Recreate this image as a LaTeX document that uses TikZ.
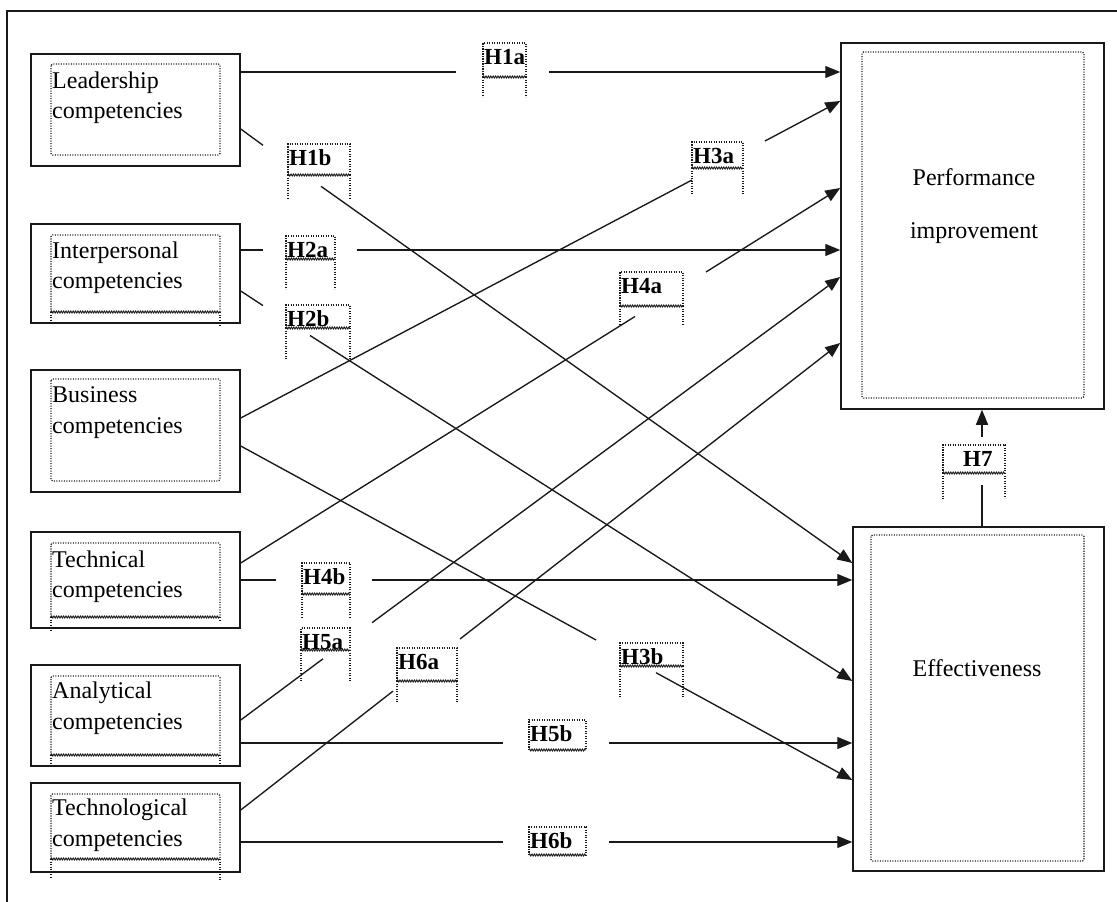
\documentclass[tikz,border=0pt]{standalone}
\usepackage{fontspec}
\setmainfont{Liberation Serif}
\usetikzlibrary{arrows.meta,decorations.pathmorphing}
\tikzset{
  obox/.style={draw=black!90,line width=1.5pt,inner sep=0pt},
  dotl/.style={draw=black!90,line width=1.1pt,dash pattern=on 1.1pt off 1.4pt},
  dotbox/.style={dotl,rounded corners=1.5pt},
  wavel/.style={draw=black!90,line width=0.9pt,decorate,decoration={zigzag,amplitude=1pt,segment length=2.4pt}},
  conn/.style={draw=black!90,line width=1.35pt},
  arr/.style={conn,-{Triangle[length=15pt,width=12pt]}},
  txt/.style={font=\fontsize{24}{30}\selectfont,inner sep=0pt,anchor=base west},
  ctxt/.style={font=\fontsize{24}{30}\selectfont,inner sep=0pt,anchor=base},
  htxt/.style={font=\bfseries\fontsize{23}{28}\selectfont,inner sep=0pt,anchor=base west},
  frame/.style={draw=black!90,line width=1.5pt}
}
% label with open-bottom extension: name, text, xl, xr, ytop, ywave, yext
\newcommand\hyplab[7]{%
  \node[htxt] (#1) at (#3+1,#5+21) {#2};
  \draw[dotl] (#3,#6) -- (#3,#5) -- (#4,#5) -- (#4,#6);
  \draw[wavel] (#3,#6) -- (#4,#6);
  \draw[dotl] (#3,#6) -- (#3,#7);
  \draw[dotl] (#4,#6) -- (#4,#7);
}
% closed label: name, text, xl, xr, ytop, ywave
\newcommand\hyplabc[6]{%
  \node[htxt] (#1) at (#3+1,#5+21) {#2};
  \draw[dotl] (#3,#6) -- (#3,#5) -- (#4,#5) -- (#4,#6);
  \draw[wavel] (#3,#6) -- (#4,#6);
}
\begin{document}
\begin{tikzpicture}[x=1pt,y=-1pt]
\useasboundingbox (0,0) rectangle (1117,902);
\fill[white] (0,0) rectangle (1117,902);
\draw[frame] (7,902) -- (7,11) -- (1117,11);

% ---------- left boxes ----------
\node[obox,minimum width=209pt,minimum height=112pt] (lead) at (135.5,110) {};
\node[obox,minimum width=209pt,minimum height=99pt] (inter) at (135.5,273.5) {};
\node[obox,minimum width=209pt,minimum height=122pt] (bus) at (135.5,431) {};
\node[obox,minimum width=209pt,minimum height=96pt] (tech) at (135.5,580) {};
\node[obox,minimum width=209pt,minimum height=101pt] (anal) at (135.5,715.5) {};
\node[obox,minimum width=209pt,minimum height=89pt] (techno) at (135.5,827.5) {};

% inner dotted frames
\draw[dotbox] (51,64) rectangle (220,155);
\draw[dotbox] (51,312) -- (51,235) -- (220,235) -- (220,312);
\draw[wavel] (51,312) -- (220,312);
\draw[dotl] (51,312) -- (51,322); \draw[dotl] (220,312) -- (220,325);
\draw[dotbox] (51,379) rectangle (220,481);
\draw[dotbox] (51,617) -- (51,543) -- (220,543) -- (220,617);
\draw[wavel] (51,617) -- (220,617);
\draw[dotl] (51,617) -- (51,630); \draw[dotl] (220,617) -- (220,621);
\draw[dotbox] (51,755) -- (51,676) -- (220,676) -- (220,755);
\draw[wavel] (51,755) -- (220,755);
\draw[dotl] (51,755) -- (51,763); \draw[dotl] (220,755) -- (220,763);
\draw[dotbox] (51,859) -- (51,794) -- (220,794) -- (220,859);
\draw[wavel] (51,859) -- (220,859);
\draw[dotl] (51,859) -- (51,877); \draw[dotl] (220,859) -- (220,880);

% texts
\node[txt] (lead-a) at (52,88) {Leadership};
\node[txt] (lead-b) at (52,118) {competencies};
\node[txt] (inter-a) at (52,258) {Interpersonal};
\node[txt] (inter-b) at (52,288) {competencies};
\node[txt] (bus-a) at (52,402) {Business};
\node[txt] (bus-b) at (52,433) {competencies};
\node[txt] (tech-a) at (52,567) {Technical};
\node[txt] (tech-b) at (52,597) {competencies};
\node[txt] (anal-a) at (52,698) {Analytical};
\node[txt] (anal-b) at (52,729) {competencies};
\node[txt] (techno-a) at (52,815) {Technological};
\node[txt] (techno-b) at (52,846) {competencies};

% ---------- right boxes ----------
\node[obox,minimum width=263pt,minimum height=366pt] (perf) at (972.5,226) {};
\draw[dotbox] (862,52) rectangle (1084,398);
\node[ctxt] (perf-a) at (974,185) {Performance};
\node[ctxt] (perf-b) at (974,238) {improvement};

\node[obox,minimum width=251pt,minimum height=344pt] (eff) at (978.5,699) {};
\draw[dotbox] (871,535) rectangle (1084,861);
\node[ctxt] (eff-a) at (977,676) {Effectiveness};

% ---------- labels ----------
\hyplab{h1a}{H1a}{483}{526}{43}{77}{97}
\hyplab{h1b}{H1b}{288}{350}{144}{175}{198}
\hyplab{h2a}{H2a}{286}{335}{236}{259}{289}
\hyplab{h2b}{H2b}{286}{350}{305}{328}{359}
\hyplab{h3a}{H3a}{692}{743}{142}{168}{195}
\hyplab{h4a}{H4a}{620}{683}{272}{306}{324}
\hyplab{h4b}{H4b}{302}{350}{563}{594}{618}
\hyplab{h5a}{H5a}{301}{350}{628}{650}{681}
\hyplab{h6a}{H6a}{397}{457}{648}{681}{703}
\hyplab{h3b}{H3b}{620}{683}{643}{666}{697}
\hyplabc{h5b}{H5b}{529}{586}{720}{750}
\hyplabc{h6b}{H6b}{529}{586}{827}{855}
\draw[dotl] (943,473) -- (943,445) -- (1005,445) -- (1005,473);
\draw[wavel] (943,473) -- (1005,473);
\draw[dotl] (943,473) -- (943,500); \draw[dotl] (1005,473) -- (1005,498);
\node[htxt] (h7) at (963,466) {H7};

% ---------- gap coordinates ----------
\coordinate (g1a-1) at (456,72);   \coordinate (g1a-2) at (549,72);
\coordinate (g1b-1) at (263,145.3); \coordinate (g1b-2) at (321,186.3);
\coordinate (g2a-1) at (263,250);  \coordinate (g2a-2) at (357,250);
\coordinate (g2b-1) at (263,305.6); \coordinate (g2b-2) at (310,335.5);
\coordinate (g3a-1) at (692,180);  \coordinate (g3a-2) at (765,141);
\coordinate (g3b-1) at (596,640);  \coordinate (g3b-2) at (656,672.7);
\coordinate (g4a-1) at (635,316.5); \coordinate (g4a-2) at (706,272);
\coordinate (g4b-1) at (276,580);  \coordinate (g4b-2) at (372,580);
\coordinate (g5a-1) at (323,658.8); \coordinate (g5a-2) at (372,622.7);
\coordinate (g5b-1) at (503,743);  \coordinate (g5b-2) at (609,743);
\coordinate (g6a-1) at (393,691.1); \coordinate (g6a-2) at (460,639);
\coordinate (g6b-1) at (503,842);  \coordinate (g6b-2) at (609,842);
\coordinate (g7-1) at (982,485);   \coordinate (g7-2) at (982,437);

% ---------- connectors ----------
\draw[conn] (lead.east |- 0,72) -- (g1a-1);  \draw[arr] (g1a-2) -- (perf.west |- 0,72);
\draw[conn] (lead.east |- 0,129) -- (g1b-1); \draw[arr] (g1b-2) -- (eff.west |- 0,563);
\draw[conn] (inter.east |- 0,250) -- (g2a-1); \draw[arr] (g2a-2) -- (perf.west |- 0,250);
\draw[conn] (inter.east |- 0,291) -- (g2b-1); \draw[arr] (g2b-2) -- (eff.west |- 0,681);
\draw[conn] (bus.east |- 0,418) -- (g3a-1);  \draw[arr] (g3a-2) -- (perf.west |- 0,101);
\draw[conn] (bus.east |- 0,446) -- (g3b-1);  \draw[arr] (g3b-2) -- (eff.west |- 0,780);
\draw[conn] (tech.east |- 0,563) -- (g4a-1); \draw[arr] (g4a-2) -- (perf.west |- 0,188);
\draw[conn] (tech.east |- 0,580) -- (g4b-1); \draw[arr] (g4b-2) -- (eff.west |- 0,580);
\draw[conn] (anal.east |- 0,720) -- (g5a-1); \draw[arr] (g5a-2) -- (perf.west |- 0,277);
\draw[conn] (anal.east |- 0,743) -- (g5b-1); \draw[arr] (g5b-2) -- (eff.west |- 0,743);
\draw[conn] (techno.east |- 0,810) -- (g6a-1); \draw[arr] (g6a-2) -- (perf.west |- 0,343);
\draw[conn] (techno.east |- 0,842) -- (g6b-1); \draw[arr] (g6b-2) -- (eff.west |- 0,842);
\draw[conn] (eff.north -| 982,0) -- (g7-1);  \draw[arr] (g7-2) -- (perf.south -| 982,0);
\end{tikzpicture}
\end{document}
